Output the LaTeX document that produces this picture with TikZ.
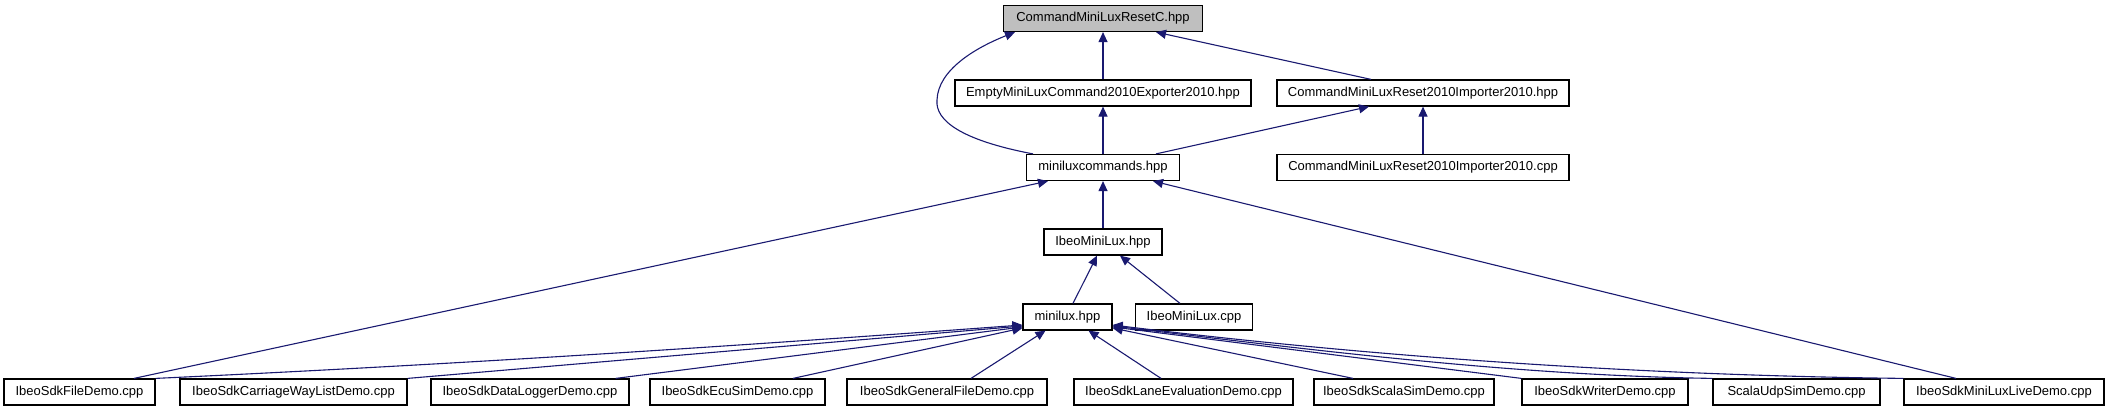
\documentclass[tikz,border=0pt]{standalone}
\usepackage{fontspec}
\setmainfont{Liberation Sans}
\usetikzlibrary{arrows.meta}

\definecolor{depblue}{RGB}{25,25,112}
\definecolor{rootgray}{RGB}{191,191,191}

\begin{document}
\begin{tikzpicture}[
    x=1pt, y=-1pt,
    file/.style={draw, line width=1.2pt, fill=white, minimum height=26pt,
                 inner sep=0pt, font=\fontsize{13}{15}\selectfont},
    dep/.style={draw=depblue, line width=1.1pt,
                -{Triangle[length=10pt,width=9pt]}}
]
\useasboundingbox (0,0) rectangle (2108,411);

\node[file, fill=rootgray, minimum width=199pt] (resetc) at (1103,18.5) {CommandMiniLuxResetC.hpp};

\node[file, minimum width=296pt] (exporter) at (1103,93) {EmptyMiniLuxCommand2010Exporter2010.hpp};
\node[file, minimum width=292pt] (importerh) at (1423,93) {CommandMiniLuxReset2010Importer2010.hpp};

\node[file, minimum width=153pt] (cmds) at (1103,167.5) {miniluxcommands.hpp};
\node[file, minimum width=292pt] (importerc) at (1423,167.5) {CommandMiniLuxReset2010Importer2010.cpp};

\node[file, minimum width=118pt] (miniluxh) at (1103,242) {IbeoMiniLux.hpp};

\node[file, minimum width=89pt] (minilux) at (1067.5,317) {minilux.hpp};
\node[file, minimum width=117pt] (miniluxc) at (1194,317) {IbeoMiniLux.cpp};

% demo row
\node[file, minimum width=151pt] (filedemo) at (79.5,392) {IbeoSdkFileDemo.cpp};
\node[file, minimum width=227pt] (carriage) at (293.5,392) {IbeoSdkCarriageWayListDemo.cpp};
\node[file, minimum width=198pt] (logger) at (530,392) {IbeoSdkDataLoggerDemo.cpp};
\node[file, minimum width=175pt] (ecusim) at (737.5,392) {IbeoSdkEcuSimDemo.cpp};
\node[file, minimum width=200pt] (general) at (947,392) {IbeoSdkGeneralFileDemo.cpp};
\node[file, minimum width=219pt] (lane) at (1183.5,392) {IbeoSdkLaneEvaluationDemo.cpp};
\node[file, minimum width=180pt] (scalasim) at (1404,392) {IbeoSdkScalaSimDemo.cpp};
\node[file, minimum width=166pt] (writer) at (1605,392) {IbeoSdkWriterDemo.cpp};
\node[file, minimum width=167pt] (scalaudp) at (1796.5,392) {ScalaUdpSimDemo.cpp};
\node[file, minimum width=200pt] (live) at (2004,392) {IbeoSdkMiniLuxLiveDemo.cpp};

% upper includes
\draw[dep] (exporter.north) -- (resetc.south);
\draw[dep] ([xshift=-52pt]importerh.north) -- ([xshift=53pt]resetc.south);
\draw[dep] ([xshift=-70pt]cmds.north) .. controls (960,140) and (935,120) .. (937,100)
           .. controls (938,70) and (975,48) .. ([xshift=-88pt]resetc.south);
\draw[dep] (cmds.north) -- (exporter.south);
\draw[dep] ([xshift=53pt]cmds.north) -- ([xshift=-54pt]importerh.south);
\draw[dep] (importerc.north) -- (importerh.south);
\draw[dep] (miniluxh.north) -- (cmds.south);
\draw[dep] ([xshift=54.5pt]filedemo.north) -- ([xshift=-55pt]cmds.south);
\draw[dep] ([xshift=-48pt]live.north) -- ([xshift=50pt]cmds.south);
\draw[dep] ([xshift=5.5pt]minilux.north) -- ([xshift=-6pt]miniluxh.south);
\draw[dep] ([xshift=-14pt]miniluxc.north) -- ([xshift=17pt]miniluxh.south);

% demos -> minilux.hpp
\draw[dep] (filedemo.north east) .. controls +(300,-14) and +(-300,22) .. ([yshift=-8pt]minilux.west);
\draw[dep] (carriage.north east) -- ([yshift=-9pt]minilux.west);
\draw[dep] ([xshift=-14pt]logger.north east) -- ([yshift=-10pt]minilux.west);
\draw[dep] ([xshift=55.5pt]ecusim.north) -- ([yshift=-11pt]minilux.west);
\draw[dep] ([xshift=24pt]general.north) -- ([xshift=-22pt]minilux.south);
\draw[dep] ([xshift=-22.5pt]lane.north) -- ([xshift=21pt]minilux.south);
\draw[dep] ([xshift=-51pt]scalasim.north) -- ([yshift=-11pt]minilux.east);
\draw[dep] (writer.north west) -- ([yshift=-10pt]minilux.east);
\draw[dep] (scalaudp.north west) .. controls +(-200,-3) and +(200,24) .. ([yshift=-9pt]minilux.east);
\draw[dep] (live.north west) .. controls +(-260,-3) and +(260,32) .. ([yshift=-8pt]minilux.east);

\end{tikzpicture}
\end{document}
